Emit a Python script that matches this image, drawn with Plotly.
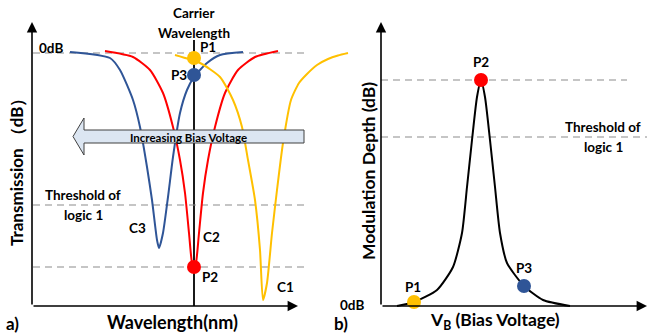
import plotly.graph_objects as go

W, H = 648, 334

# ---------------- data ----------------
# Panel a: wavelength (arb. units), transmission (dB, arb. scale)
c3_wl = [38, 78, 88, 101, 108, 115, 120, 125, 127, 131, 136, 141, 148, 155, 162, 175, 188, 211]
c3_tr = [0.1, -0.5, -1.7, -4.7, -7.4, -11.4, -14.7, -18.7, -19.5, -18.0, -14.4, -10.4, -6.0, -3.7, -2.4, -1.0, -0.2, 0.1]

c2_wl = [73, 101, 118, 131, 141, 148, 153, 157, 160, 162, 164, 167, 171, 176, 183, 193, 206, 223, 246]
c2_tr = [0.2, -0.4, -1.7, -4.0, -7.4, -10.7, -14.0, -18.0, -21.0, -21.5, -21.0, -18.0, -14.0, -10.7, -7.4, -4.0, -1.7, -0.4, 0.2]

c1_wl = [143, 168, 188, 201, 210, 216, 223, 228, 231, 235, 240, 245, 251, 259, 267, 275, 285, 296, 306, 316]
c1_tr = [-0.2, -1.0, -2.4, -4.7, -7.4, -10.7, -14.7, -19.7, -24.7, -23.0, -18.0, -13.7, -9.0, -4.7, -3.0, -2.1, -1.2, -0.6, -0.25, 0.0]

pts_a_labels = ["P1", "P3", "P2"]
pts_a_wl = [162, 162, 162]
pts_a_tr = [-0.5, -2.2, -21.4]
pts_a_colors = ["#FFC000", "#2F5597", "#FF0000"]

carrier_wl = 162
level_0db = 0.0
level_threshold_a = -15.2
level_p2_a = -21.4

# Panel b: bias voltage (arb.), modulation depth (dB, arb. scale)
md_vb = [16, 33, 56, 72, 81, 86, 91, 96, 100, 104, 109, 114, 119, 126, 143, 162, 189]
md_db = [0.0, 0.4, 1.6, 3.9, 7.3, 11.9, 16.6, 20.9, 22.6, 20.9, 16.6, 11.9, 7.3, 4.3, 2.0, 0.6, 0.0]

pts_b_labels = ["P1", "P2", "P3"]
pts_b_vb = [33, 100, 143]
pts_b_md = [0.4, 22.6, 2.0]
pts_b_colors = ["#FFC000", "#FF0000", "#2F5597"]

level_p2_b = 22.6
level_threshold_b = 16.9

# ---------------- layout helpers ----------------
def px(x):
    return x / W

def py(y):
    return 1 - y / H

FONT = "Lato, Calibri, 'Open Sans', sans-serif"
BLUE, RED, YEL = "#2F5597", "#FF0000", "#FFC000"

fig = go.Figure()

line_kw = dict(width=2, shape="spline", smoothing=0.6)
# panel a curves
fig.add_trace(go.Scatter(x=c3_wl, y=c3_tr, mode="lines", line=dict(color=BLUE, **line_kw),
                         xaxis="x", yaxis="y", hoverinfo="skip"))
fig.add_trace(go.Scatter(x=c2_wl, y=c2_tr, mode="lines", line=dict(color=RED, **line_kw),
                         xaxis="x", yaxis="y", hoverinfo="skip"))
fig.add_trace(go.Scatter(x=c1_wl, y=c1_tr, mode="lines", line=dict(color=YEL, **line_kw),
                         xaxis="x", yaxis="y", hoverinfo="skip"))
# panel b curve
fig.add_trace(go.Scatter(x=md_vb, y=md_db, mode="lines", line=dict(color="black", **line_kw),
                         xaxis="x2", yaxis="y2", hoverinfo="skip"))

# shapes: carrier line and dashed levels
shapes = []
shapes.append(dict(type="line", xref="x", yref="y", x0=carrier_wl, x1=carrier_wl, y0=1.3, y1=-25.3,
                   line=dict(color="black", width=1.8), layer="below"))
dash = dict(color="#8C8C8C", width=1.2, dash="7px,5px")
for lv in [level_0db, level_threshold_a, level_p2_a]:
    shapes.append(dict(type="line", xref="x", yref="y", x0=1, x1=272, y0=lv, y1=lv, line=dash, layer="below"))
shapes.append(dict(type="line", xref="x2", yref="y2", x0=0, x1=246, y0=level_p2_b, y1=level_p2_b, line=dash, layer="below"))
shapes.append(dict(type="line", xref="x2", yref="y2", x0=0, x1=266, y0=level_threshold_b, y1=level_threshold_b, line=dash, layer="below"))

# big arrow "Increasing Bias Voltage"
ax0, ahb, ar = 73, 84, 304
yt, yb, yht, yhb = 130, 143, 118, 155
path = (f"M {px(ax0)} {py((yt + yb) / 2)} L {px(ahb)} {py(yht)} L {px(ahb)} {py(yt)} L {px(ar)} {py(yt)} "
        f"L {px(ar)} {py(yb)} L {px(ahb)} {py(yb)} L {px(ahb)} {py(yhb)} Z")
shapes.append(dict(type="path", xref="paper", yref="paper", path=path,
                   fillcolor="#DCE6F2", line=dict(color="#404040", width=1), layer="above"))

# points (drawn after the arrow so they stay on top)
fig.add_trace(go.Scatter(x=pts_a_wl, y=pts_a_tr, mode="markers", cliponaxis=False,
                         marker=dict(color=pts_a_colors, size=14, line=dict(width=0)),
                         xaxis="x", yaxis="y", hoverinfo="skip"))
fig.add_trace(go.Scatter(x=pts_b_vb, y=pts_b_md, mode="markers", cliponaxis=False,
                         marker=dict(color=pts_b_colors, size=14, line=dict(width=0)),
                         xaxis="x2", yaxis="y2", hoverinfo="skip"))

ann = []

def text(x, y, s, size=13.5, angle=0, xanchor="center"):
    ann.append(dict(x=px(x), y=py(y), xref="paper", yref="paper", text=s, showarrow=False,
                    font=dict(family=FONT, size=size, color="black"), textangle=angle,
                    xanchor=xanchor, yanchor="middle"))

def arrow(x0, y0, x1, y1):
    ann.append(dict(x=px(x1), y=py(y1), xref="paper", yref="paper", ax=x0 - x1, ay=y0 - y1,
                    axref="pixel", ayref="pixel", text="", showarrow=True, arrowhead=2,
                    arrowsize=1.3, arrowwidth=1.6, arrowcolor="black", standoff=0, startstandoff=0))

# axis arrows
arrow(32, 306, 32, 22)
arrow(32, 306, 298, 306)
arrow(381, 306, 381, 22)
arrow(381, 306, 647, 306)

# panel a texts
text(194, 13, "<b>Carrier</b>")
text(194, 33, "<b>Wavelength</b>")
text(208, 47, "<b>P1</b>")
text(179, 75, "<b>P3</b>")
text(51, 48, "<b>0dB</b>")
text(83, 195, "<b>Threshold of</b>")
text(83, 215, "<b>logic 1</b>")
text(137, 228, "<b>C3</b>")
text(211, 237, "<b>C2</b>")
text(210, 277, "<b>P2</b>")
text(285, 287, "<b>C1</b>")
text(188, 137, "<b>Increasing Bias Voltage</b>", size=11.5)
text(16, 168, "<b>Transmission （dB）</b>", size=17, angle=-90)
text(172, 322, "<b>Wavelength(nm)</b>", size=18)
text(12, 323, "<b>a)</b>", size=17)

# panel b texts
text(481, 62, "<b>P2</b>")
text(413, 287, "<b>P1</b>")
text(524, 268, "<b>P3</b>")
text(603, 127, "<b>Threshold of</b>")
text(603, 147, "<b>logic 1</b>")
text(352, 305, "<b>0dB</b>")
text(341, 323, "<b>b)</b>", size=17)
text(368, 171, "<b>Modulation Depth (dB)</b>", size=17.5, angle=-90)
text(495, 321, "<b>V<sub>B</sub> (Bias Voltage)</b>", size=17.5)

ydom = [py(315), py(15)]
hidden = dict(showgrid=False, zeroline=False, showline=False, showticklabels=False, ticks="", fixedrange=True)

fig.update_layout(
    width=W, height=H, margin=dict(l=0, r=0, t=0, b=0),
    paper_bgcolor="white", plot_bgcolor="rgba(0,0,0,0)", showlegend=False,
    xaxis=dict(domain=[px(32), px(350)], range=[0, 318], anchor="y", **hidden),
    yaxis=dict(domain=ydom, range=[-26.2, 3.8], anchor="x", **hidden),
    xaxis2=dict(domain=[px(381), 1], range=[0, 267], anchor="y2", **hidden),
    yaxis2=dict(domain=ydom, range=[-0.9, 29.1], anchor="x2", **hidden),
    shapes=shapes, annotations=ann,
)

fig.write_html("out.html", config={"displayModeBar": False, "staticPlot": True},
               post_script="document.body.style.margin='0';document.body.style.overflow='hidden';")
